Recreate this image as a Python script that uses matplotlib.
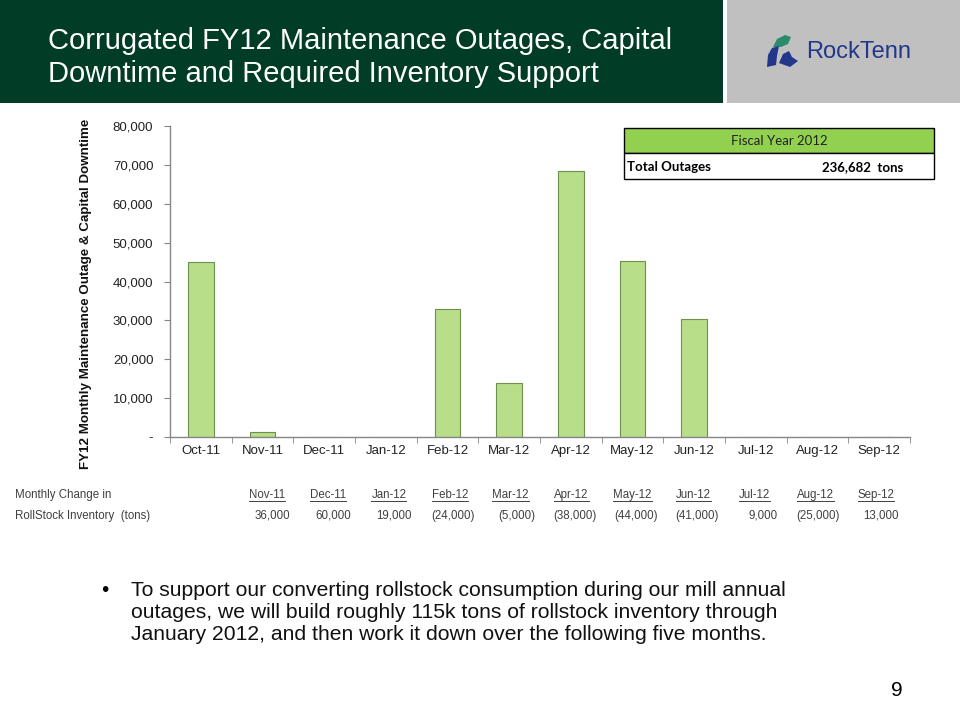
import matplotlib
matplotlib.use("Agg")
import matplotlib.pyplot as plt
from matplotlib.patches import Rectangle, Polygon
from matplotlib.lines import Line2D
from matplotlib.ticker import FuncFormatter, FixedLocator

# ---- data ----
months = ["Oct-11", "Nov-11", "Dec-11", "Jan-12", "Feb-12", "Mar-12",
          "Apr-12", "May-12", "Jun-12", "Jul-12", "Aug-12", "Sep-12"]
outages = [45000, 1200, 0, 0, 32800, 13900, 68300, 45200, 30300, 0, 0, 0]
inv_months = ["Nov-11", "Dec-11", "Jan-12", "Feb-12", "Mar-12", "Apr-12",
              "May-12", "Jun-12", "Jul-12", "Aug-12", "Sep-12"]
inv_change = ["36,000", "60,000", "19,000", "(24,000)", "(5,000)", "(38,000)",
              "(44,000)", "(41,000)", "9,000", "(25,000)", "13,000"]
title_lines = ["Corrugated FY12 Maintenance Outages, Capital",
               "Downtime and Required Inventory Support"]
ylabel = "FY12 Monthly Maintenance Outage & Capital Downtime"
total_label = "Total Outages"
total_value = "236,682  tons"
box_title = "Fiscal Year 2012"
bullet_lines = ["To support our converting rollstock consumption during our mill annual",
                "outages, we will build roughly 115k tons of rollstock inventory through",
                "January 2012, and then work it down over the following five months."]
page_no = "9"

W, H = 960, 720
fig = plt.figure(figsize=(9.6, 7.2), dpi=100)
fig.patch.set_facecolor("white")

def fx(x):
    return x / W

def fy(y):
    return 1 - y / H

def poly(pts, color):
    fig.patches.append(Polygon([(fx(a), fy(b)) for a, b in pts], closed=True,
                               transform=fig.transFigure, facecolor=color,
                               edgecolor="none", zorder=2))

SANS = ["Liberation Sans", "DejaVu Sans"]
BOXF = ["Lato", "Liberation Sans", "DejaVu Sans"]

# ---- header ----
fig.patches.append(Rectangle((0, fy(103)), fx(723), 103 / H, transform=fig.transFigure,
                             facecolor="#003C26", edgecolor="none", zorder=0))
fig.patches.append(Rectangle((fx(727), fy(103)), fx(233), 103 / H, transform=fig.transFigure,
                             facecolor="#C0C0C0", edgecolor="none", zorder=0))
fig.text(fx(48), fy(41), title_lines[0], color="white", fontsize=21, family=SANS,
         va="center", ha="left")
fig.text(fx(48), fy(74), title_lines[1], color="white", fontsize=21, family=SANS,
         va="center", ha="left")
# logo
poly([(773, 47), (777, 39), (785, 35), (791, 37), (788, 44), (781, 47)], "#2A8C6A")
poly([(767, 67), (768, 55), (772, 48), (779, 46), (777, 56), (776, 65)], "#22378A")
poly([(779, 63), (783, 54), (789, 51), (792, 57), (798, 61), (790, 67)], "#22378A")
fig.text(fx(806), fy(52), "RockTenn", color="#22378A", fontsize=17, family=SANS,
         va="center", ha="left")

# ---- chart ----
ax = fig.add_axes([fx(170), fy(437), fx(740), 311 / H])
x = list(range(len(months)))
ax.bar(x, outages, width=0.42, color="#B8DE8A", edgecolor="#6F8F4E", linewidth=0.8, zorder=2)
ax.set_xlim(-0.5, len(months) - 0.5)
ax.set_ylim(0, 80000)
ax.set_yticks(range(0, 80001, 10000))
ax.yaxis.set_major_formatter(FuncFormatter(lambda v, p: "-" if v == 0 else f"{int(v):,}"))
ax.set_xticks(x)
ax.set_xticklabels(months)
ax.xaxis.set_minor_locator(FixedLocator([i - 0.5 for i in range(len(months) + 1)]))
ax.tick_params(axis="x", which="major", length=0, pad=6, labelsize=9.5, labelcolor="#222222")
ax.tick_params(axis="x", which="minor", length=4, color="#868686", direction="out")
ax.tick_params(axis="y", length=4, color="#868686", direction="out", pad=8,
               labelsize=9.5, labelcolor="#222222")
for lbl in ax.get_xticklabels() + ax.get_yticklabels():
    lbl.set_family(SANS)
for s in ["top", "right"]:
    ax.spines[s].set_visible(False)
for s in ["left", "bottom"]:
    ax.spines[s].set_color("#868686")
    ax.spines[s].set_linewidth(1)
ax.set_facecolor("none")
fig.text(fx(86), fy(294), ylabel, rotation=90, fontsize=9.6, fontweight="bold",
         family=SANS, va="center", ha="center", color="#111111")

# ---- Fiscal Year box ----
bx0, bx1, by0, bym, by1 = 624, 934, 128, 153, 179
fig.patches.append(Rectangle((fx(bx0), fy(bym)), fx(bx1 - bx0), (bym - by0) / H,
                             transform=fig.transFigure, facecolor="#92D050",
                             edgecolor="black", linewidth=1, zorder=3))
fig.patches.append(Rectangle((fx(bx0), fy(by1)), fx(bx1 - bx0), (by1 - bym) / H,
                             transform=fig.transFigure, facecolor="white",
                             edgecolor="black", linewidth=1, zorder=3))
fig.text(fx((bx0 + bx1) / 2), fy(141), box_title, fontsize=9.5, family=BOXF,
         ha="center", va="center", color="#222222", zorder=4)
fig.text(fx(627), fy(167), total_label, fontsize=9.5, family=BOXF, fontweight="bold",
         ha="left", va="center", zorder=4)
fig.text(fx(903), fy(167), total_value, fontsize=9.5, family=BOXF, fontweight="bold",
         ha="right", va="center", zorder=4)

# ---- inventory table ----
gray = "#404040"
TF = 8.3
fig.text(fx(15), fy(498), "Monthly Change in", fontsize=TF, family=SANS, color=gray,
         va="baseline", ha="left")
fig.text(fx(15), fy(519), "RollStock Inventory  (tons)", fontsize=TF, family=SANS,
         color=gray, va="baseline", ha="left")
renderer = fig.canvas.get_renderer()
col_x0 = 267
col_dx = 60.9
for i, (m, v) in enumerate(zip(inv_months, inv_change)):
    cx = col_x0 + i * col_dx
    t = fig.text(fx(cx), fy(498), m, fontsize=TF, family=SANS, color=gray,
                 va="baseline", ha="center")
    bb = t.get_window_extent(renderer=renderer)
    fig.lines.append(Line2D([bb.x0 / W, bb.x1 / W], [fy(501), fy(501)],
                            transform=fig.transFigure, color=gray, linewidth=0.7))
    right = cx + 25 if v.startswith("(") else cx + 23
    fig.text(fx(right), fy(519), v, fontsize=TF, family=SANS, color=gray,
             va="baseline", ha="right")

# ---- bullet text ----
fig.text(fx(101), fy(590), "\u2022", fontsize=15, family=SANS, va="center", ha="left")
for i, line in enumerate(bullet_lines):
    fig.text(fx(131), fy(590 + i * 22.5), line, fontsize=15.2, family=SANS,
             va="center", ha="left", color="#111111")

fig.text(fx(903), fy(690), page_no, fontsize=15, family=SANS, va="center", ha="right")

fig.savefig("out.png", dpi=100)
